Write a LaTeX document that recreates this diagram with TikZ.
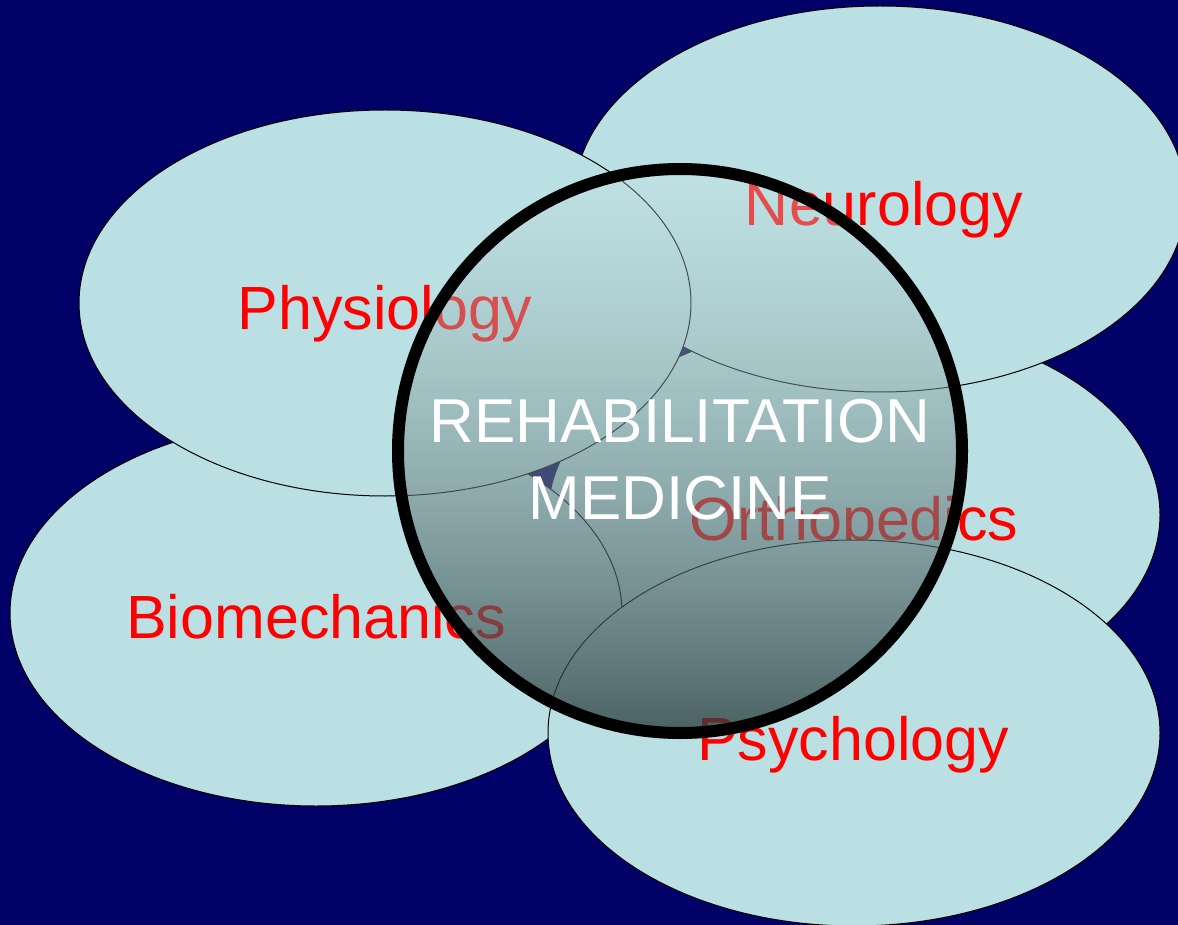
\documentclass[tikz,border=0pt]{standalone}
\usepackage{fontspec}
\setmainfont{Liberation Sans}
\usetikzlibrary{shapes.geometric,fadings}
\definecolor{navy}{RGB}{0,0,102}
\definecolor{ellfill}{RGB}{186,224,227}
\definecolor{shtop}{RGB}{200,228,230}
\definecolor{shbot}{RGB}{40,58,58}
\tikzfading[name=circfade, top color=transparent!68, bottom color=transparent!24]
\tikzset{
  field/.style={ellipse, draw=black, line width=1pt, fill=ellfill, minimum width=612pt, minimum height=386pt, inner sep=0pt},
  fieldlabel/.style={anchor=base, text=red, font=\fontsize{61}{61}\selectfont, inner sep=0pt},
  centerlabel/.style={anchor=base, text=white, font=\fontsize{62}{62}\selectfont, inner sep=0pt}
}
\begin{document}
\begin{tikzpicture}[x=1pt,y=-1pt]
\fill[navy] (0,0) rectangle (1178,925);
\useasboundingbox (0,0) rectangle (1178,925);
% layered ellipses, bottom to top
\node[field] (ortho) at (854,515) {};
\node[fieldlabel] (orthot) at (854,540) {Orthopedics};
\node[field] (neuro) at (880,199) {};
\node[fieldlabel] (neurot) at (884,226) {Neurology};
\node[field] (biomech) at (316,613) {};
\node[fieldlabel] (biomecht) at (316,638) {Biomechanics};
\node[field] (physio) at (385,303) {};
\node[fieldlabel] (physiot) at (385,330) {Physiology};
\node[field] (psych) at (854,733) {};
\node[fieldlabel] (psycht) at (853,760) {Psychology};
% central circle
\coordinate (cc) at (680,451);
\path[top color=shtop, bottom color=shbot, path fading=circfade] (cc) circle (282);
\draw[black, line width=12pt] (cc) circle (282);
\node[centerlabel] (rehab) at (680,442) {REHABILITATION};
\node[centerlabel] (med) at (680,519) {MEDICINE};
\end{tikzpicture}
\end{document}
